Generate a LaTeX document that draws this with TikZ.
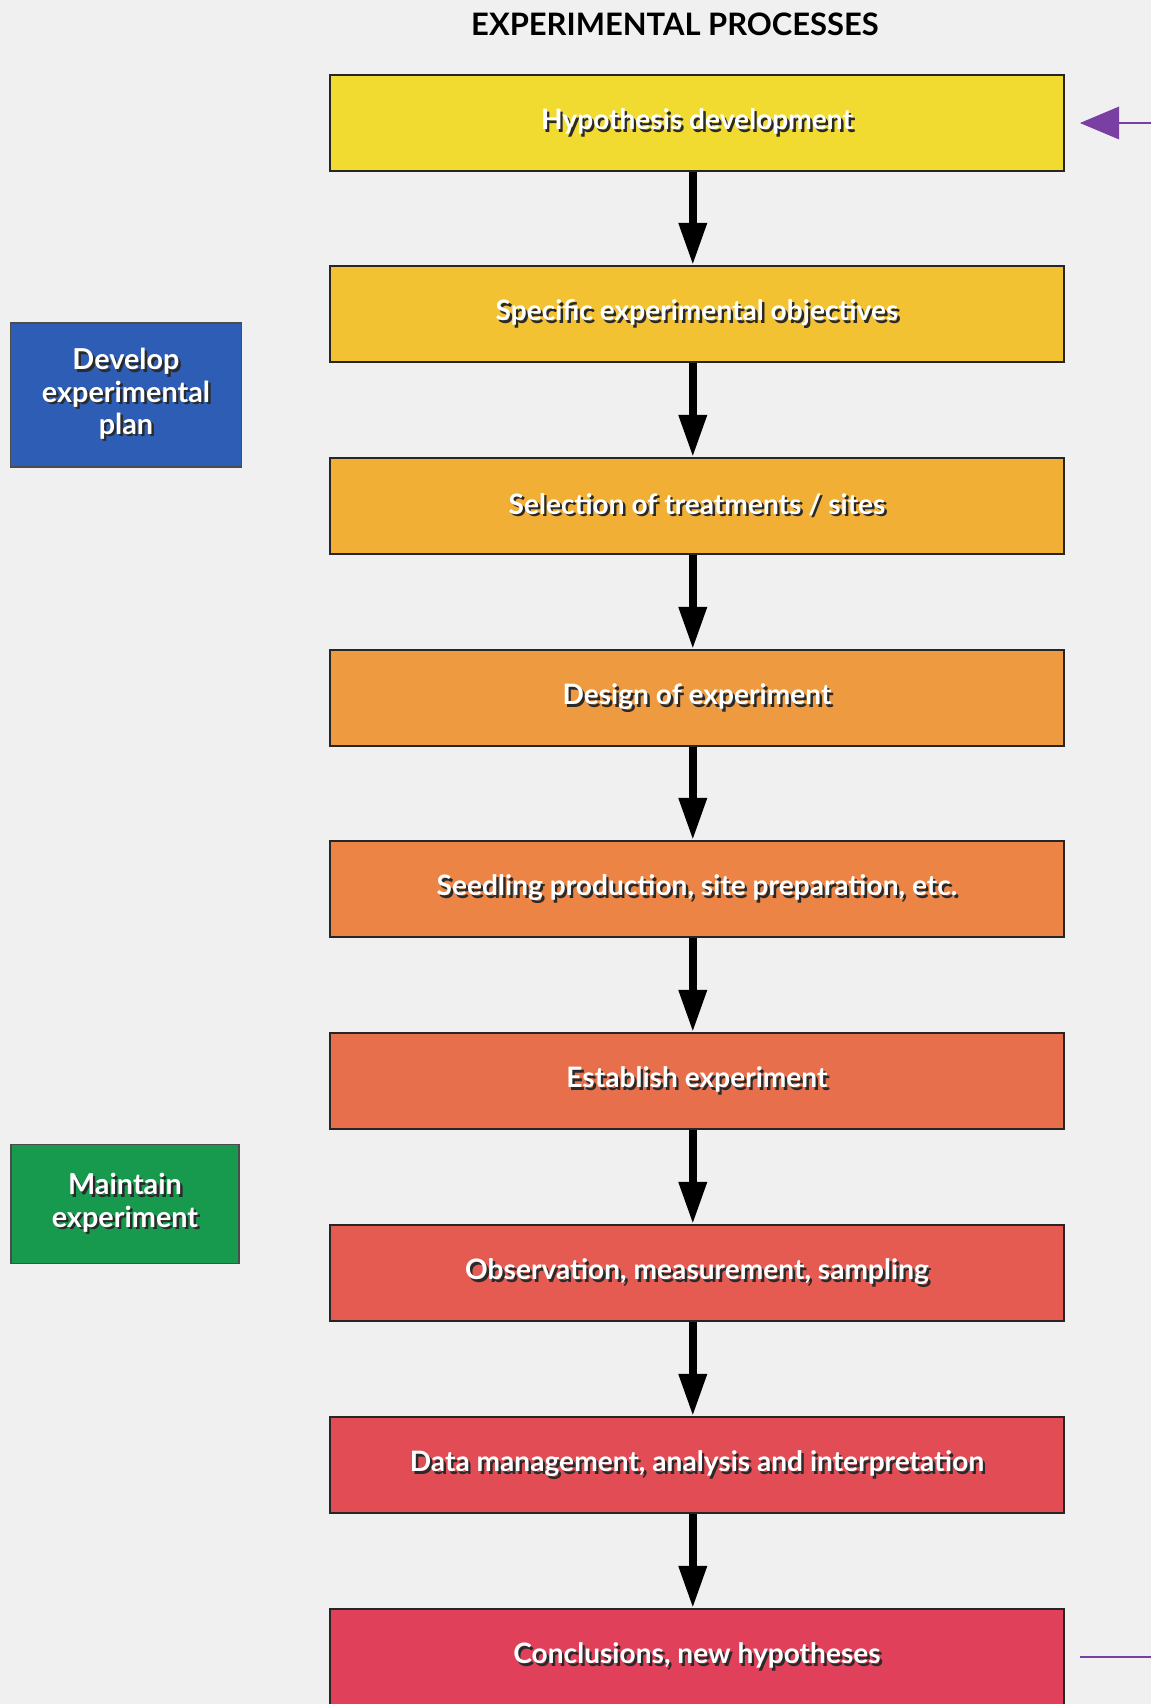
\documentclass[tikz,border=0pt]{standalone}
\usepackage{fontspec}
\setmainfont{Lato}
\usetikzlibrary{arrows.meta,positioning}
\definecolor{PageBg}{HTML}{F0F0F0}
\definecolor{StageA}{HTML}{F1DB30}
\definecolor{StageB}{HTML}{F2C232}
\definecolor{StageC}{HTML}{F1AF36}
\definecolor{StageD}{HTML}{EE9A40}
\definecolor{StageE}{HTML}{EC8445}
\definecolor{StageF}{HTML}{E86F4C}
\definecolor{StageG}{HTML}{E55B51}
\definecolor{StageH}{HTML}{E24C55}
\definecolor{StageI}{HTML}{E0405A}
\definecolor{PlanBlue}{HTML}{2D5DB4}
\definecolor{KeepGreen}{HTML}{189A4E}
\definecolor{FeedPurple}{HTML}{7A3FA3}
\definecolor{ShadowGray}{HTML}{2A2A2A}
\newcommand{\shd}[1]{\leavevmode\rlap{\hspace{1.7pt}\raisebox{-1.7pt}{\textcolor{ShadowGray}{#1}}}\textcolor{white}{#1}}

\begin{document}
\begin{tikzpicture}[x=0.025cm,y=-0.025cm,
  stage/.style={draw=black!85,line width=1.4pt,minimum width=18.35cm,minimum height=2.4cm,inner sep=0pt,
    font=\bfseries\fontsize{20}{24}\selectfont},
  side/.style={draw=black!70,line width=1pt,align=center,inner sep=0pt,
    font=\bfseries\fontsize{20.5}{23}\selectfont},
  flow/.style={-{Triangle[length=30pt,width=19pt]},line width=5.5pt,black},
  fb/.style={draw=FeedPurple,line width=2pt}]
  \fill[PageBg] (0,0) rectangle (1151,1704);
  \useasboundingbox (0,0) rectangle (1151,1704);

  \node[font=\bfseries\fontsize{22}{26}\selectfont] (title) at (675,24) {EXPERIMENTAL PROCESSES};

  % main sequence of stages
  \node[stage,fill=StageA] (hyp)   at (697,123)  {\shd{Hypothesis development}};
  \node[stage,fill=StageB] (obj)   at (697,314)  {\shd{Specific experimental objectives}};
  \node[stage,fill=StageC] (sel)   at (697,506)  {\shd{Selection of treatments / sites}};
  \node[stage,fill=StageD] (des)   at (697,698)  {\shd{Design of experiment}};
  \node[stage,fill=StageE] (prep)  at (697,889)  {\shd{Seedling production, site preparation, etc.}};
  \node[stage,fill=StageF] (est)   at (697,1081) {\shd{Establish experiment}};
  \node[stage,fill=StageG] (obs)   at (697,1273) {\shd{Observation, measurement, sampling}};
  \node[stage,fill=StageH] (data)  at (697,1465) {\shd{Data management, analysis and interpretation}};
  \node[stage,fill=StageI] (concl) at (697,1657) {\shd{Conclusions, new hypotheses}};

  \draw[flow] ([xshift=-3pt]hyp.south) -- ([xshift=-3pt]obj.north);
  \draw[flow] ([xshift=-3pt]obj.south) -- ([xshift=-3pt]sel.north);
  \draw[flow] ([xshift=-3pt]sel.south) -- ([xshift=-3pt]des.north);
  \draw[flow] ([xshift=-3pt]des.south) -- ([xshift=-3pt]prep.north);
  \draw[flow] ([xshift=-3pt]prep.south) -- ([xshift=-3pt]est.north);
  \draw[flow] ([xshift=-3pt]est.south) -- ([xshift=-3pt]obs.north);
  \draw[flow] ([xshift=-3pt]obs.south) -- ([xshift=-3pt]data.north);
  \draw[flow] ([xshift=-3pt]data.south) -- ([xshift=-3pt]concl.north);

  % phase labels
  \node[side,fill=PlanBlue,minimum width=5.78cm,minimum height=3.6cm] (plan) at (126,395)
    {\shd{Develop}\\\shd{experimental}\\\shd{plan}};
  \node[side,fill=KeepGreen,minimum width=5.7cm,minimum height=2.98cm] (keep) at (125,1204)
    {\shd{Maintain}\\\shd{experiment}};

  % feedback loop ends
  \coordinate (fbin) at (1151,123);
  \coordinate (fbout) at (1151,1657);
  \draw[fb,-{Triangle[length=28pt,width=23pt]},shorten >=10.5pt] (fbin) -- (hyp);
  \draw[fb,line width=1.5pt,shorten <=10.5pt] (concl) -- (fbout);
\end{tikzpicture}
\end{document}
